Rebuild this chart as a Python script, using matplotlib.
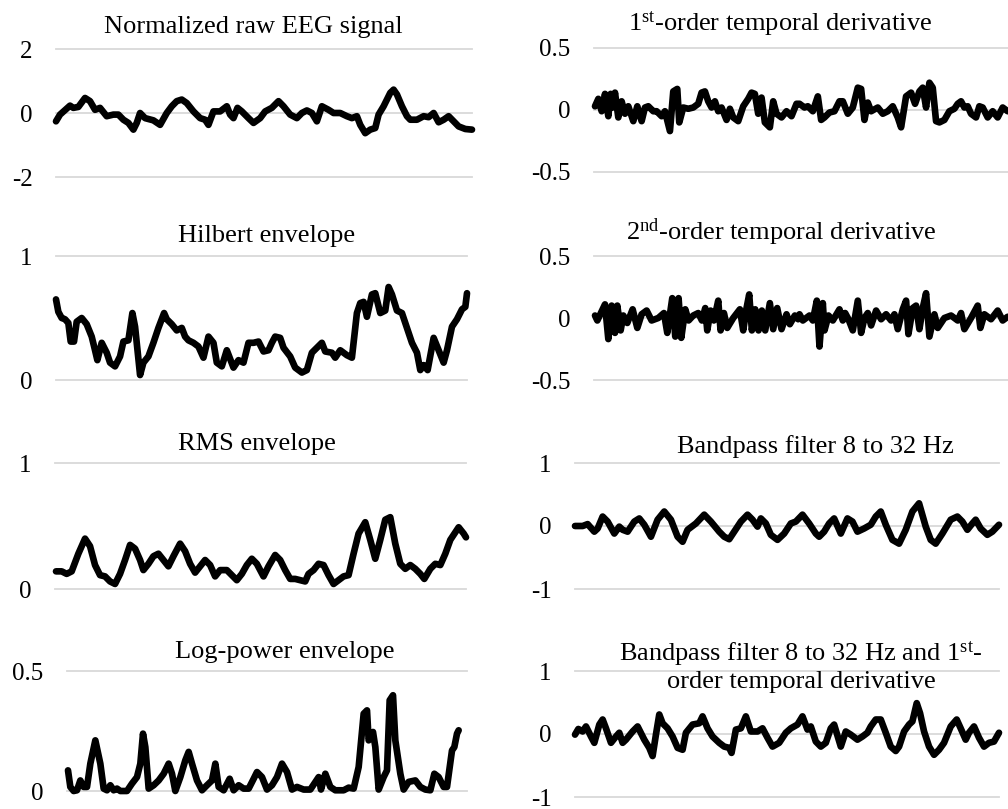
import matplotlib
matplotlib.use("Agg")
import matplotlib.pyplot as plt

plt.rcParams['font.family'] = ['Liberation Serif', 'DejaVu Serif']
plt.rcParams['mathtext.fontset'] = 'custom'
plt.rcParams['mathtext.rm'] = 'Liberation Serif'
plt.rcParams['mathtext.it'] = 'Liberation Serif:italic'
plt.rcParams['axes.unicode_minus'] = False

# ---------------- data (time in samples) ----------------
raw_t = [0, 12, 42, 52, 67, 87, 102, 117, 132, 152,
         172, 187, 202, 217, 232, 242, 252, 267, 292, 312,
         332, 347, 362, 377, 392, 412, 432, 447, 457, 472,
         492, 512, 522, 532, 544, 557, 577, 592, 612, 627,
         647, 667, 682, 702, 722, 737, 752, 767, 782, 797,
         817, 832, 852, 872, 887, 902, 912, 927, 942, 957,
         967, 982, 992, 1002, 1012, 1022, 1037, 1052, 1062, 1082,
         1102, 1117, 1132, 1147, 1162, 1177, 1192, 1207, 1227, 1247]
raw_v = [-0.26, -0.05, 0.23, 0.16, 0.19, 0.47, 0.37, 0.10, 0.16, -0.10,
         -0.05, -0.05, -0.21, -0.31, -0.52, -0.31, 0.00, -0.16, -0.23, -0.37,
         0.00, 0.21, 0.37, 0.42, 0.31, 0.05, -0.16, -0.21, -0.37, 0.05,
         0.05, 0.21, -0.05, -0.16, 0.16, 0.05, -0.16, -0.31, -0.16, 0.05,
         0.16, 0.37, 0.21, -0.05, -0.16, 0.00, 0.08, 0.00, -0.26, 0.21,
         0.10, 0.00, 0.00, -0.10, -0.16, -0.10, -0.37, -0.63, -0.52, -0.47,
         -0.05, 0.21, 0.42, 0.63, 0.73, 0.58, 0.21, -0.10, -0.21, -0.21,
         -0.10, -0.13, 0.00, -0.29, -0.21, -0.10, -0.26, -0.42, -0.50, -0.52]

hil_t = [0, 7, 17, 27, 37, 44, 54, 62, 77, 92,
         107, 117, 124, 137, 152, 162, 177, 192, 202, 217,
         229, 237, 252, 262, 277, 292, 307, 324, 332, 347,
         362, 377, 387, 397, 412, 427, 442, 457, 472, 482,
         497, 512, 532, 547, 562, 577, 592, 607, 622, 637,
         647, 657, 672, 682, 702, 717, 737, 752, 767, 782,
         797, 807, 827, 837, 852, 872, 887, 902, 912, 922,
         932, 947, 957, 972, 987, 997, 1007, 1022, 1037, 1052,
         1067, 1082, 1092, 1102, 1114, 1132, 1147, 1162, 1172, 1187,
         1202, 1217, 1227, 1232]
hil_v = [0.65, 0.55, 0.50, 0.49, 0.46, 0.31, 0.31, 0.47, 0.50, 0.45,
         0.35, 0.24, 0.16, 0.30, 0.22, 0.14, 0.11, 0.19, 0.31, 0.32,
         0.54, 0.43, 0.04, 0.14, 0.19, 0.30, 0.42, 0.54, 0.49, 0.45,
         0.40, 0.42, 0.35, 0.32, 0.30, 0.27, 0.18, 0.35, 0.30, 0.14,
         0.11, 0.24, 0.10, 0.16, 0.14, 0.30, 0.30, 0.31, 0.23, 0.24,
         0.30, 0.35, 0.34, 0.26, 0.19, 0.10, 0.06, 0.08, 0.22, 0.26,
         0.30, 0.23, 0.22, 0.18, 0.24, 0.20, 0.18, 0.54, 0.62, 0.63,
         0.51, 0.69, 0.70, 0.54, 0.56, 0.75, 0.69, 0.56, 0.54, 0.42,
         0.30, 0.22, 0.08, 0.12, 0.08, 0.34, 0.24, 0.14, 0.24, 0.43,
         0.49, 0.57, 0.59, 0.70]

rms_t = [0, 17, 32, 47, 67, 87, 102, 117, 132, 147,
         162, 177, 192, 207, 222, 237, 252, 262, 277, 292,
         307, 322, 337, 352, 372, 387, 402, 417, 432, 447,
         462, 477, 492, 512, 527, 542, 557, 572, 587, 602,
         622, 637, 657, 672, 687, 702, 717, 732, 747, 757,
         772, 787, 802, 817, 832, 847, 862, 877, 892, 907,
         927, 942, 957, 972, 987, 1002, 1017, 1032, 1047, 1062,
         1077, 1092, 1104, 1122, 1137, 1152, 1167, 1182, 1207, 1222,
         1229]
rms_v = [0.14, 0.14, 0.12, 0.14, 0.28, 0.40, 0.34, 0.19, 0.11, 0.10,
         0.06, 0.04, 0.12, 0.23, 0.35, 0.32, 0.23, 0.15, 0.20, 0.26,
         0.28, 0.23, 0.18, 0.26, 0.36, 0.30, 0.20, 0.13, 0.18, 0.23,
         0.19, 0.10, 0.15, 0.15, 0.11, 0.07, 0.12, 0.19, 0.24, 0.20,
         0.10, 0.18, 0.27, 0.23, 0.15, 0.08, 0.08, 0.07, 0.06, 0.12,
         0.15, 0.20, 0.19, 0.11, 0.04, 0.07, 0.10, 0.11, 0.28, 0.44,
         0.53, 0.39, 0.24, 0.39, 0.55, 0.57, 0.36, 0.20, 0.16, 0.19,
         0.16, 0.12, 0.08, 0.16, 0.20, 0.19, 0.28, 0.39, 0.49, 0.44,
         0.41]

logp_t = [0, 7, 17, 27, 37, 47, 57, 67, 82, 97,
          107, 117, 127, 137, 147, 157, 177, 192, 207, 217,
          225, 232, 242, 257, 272, 287, 302, 312, 322, 337,
          352, 362, 372, 387, 402, 417, 432, 442, 452, 467,
          485, 497, 512, 527, 542, 557, 567, 582, 597, 612,
          627, 642, 657, 672, 687, 707, 727, 752, 759, 772,
          787, 802, 827, 842, 857, 872, 887, 897, 902, 915,
          922, 932, 947, 957, 965, 975, 982, 997, 1007, 1022,
          1042, 1057, 1072, 1087, 1099, 1112, 1127, 1137, 1152, 1159,
          1167, 1172]
logp_v = [0.086, 0.017, 0.000, 0.003, 0.044, 0.017, 0.017, 0.114, 0.211, 0.114,
          0.010, 0.003, 0.024, 0.003, 0.010, 0.000, 0.000, 0.031, 0.058, 0.114,
          0.239, 0.183, 0.010, 0.024, 0.044, 0.072, 0.114, 0.072, 0.000, 0.058,
          0.128, 0.163, 0.114, 0.044, 0.003, 0.024, 0.044, 0.114, 0.017, 0.003,
          0.051, 0.003, 0.024, 0.010, 0.010, 0.051, 0.079, 0.058, 0.006, 0.024,
          0.058, 0.114, 0.079, 0.006, 0.017, 0.006, 0.006, 0.058, 0.006, 0.072,
          0.017, 0.003, 0.003, 0.014, 0.010, 0.100, 0.322, 0.336, 0.211, 0.246,
          0.183, 0.006, 0.058, 0.086, 0.378, 0.399, 0.211, 0.072, 0.006, 0.038,
          0.044, 0.017, 0.006, 0.003, 0.072, 0.058, 0.017, 0.017, 0.169, 0.183,
          0.239, 0.253]

d1_t = [3, 13, 23, 33, 43, 50, 56, 63, 73, 83,
        93, 103, 118, 130, 143, 153, 163, 178, 188, 203,
        213, 228, 238, 250, 256, 268, 283, 298, 313, 323,
        333, 343, 353, 363, 373, 383, 398, 408, 418, 433,
        448, 463, 473, 483, 493, 503, 513, 528, 538, 548,
        563, 578, 593, 608,
        617, 632, 642, 657, 672, 682, 692, 707, 722, 737,
        747, 762, 777, 792, 802, 812, 822, 832, 852, 867,
        882, 897, 912, 922, 937, 952, 964, 977, 987, 997,
        1007, 1017, 1027, 1037, 1052, 1067, 1082, 1092, 1102, 1112,
        1122, 1132, 1147, 1157, 1167, 1182, 1197, 1212, 1227, 1242]
d1_v = [0.03, 0.09, -0.01, 0.13, -0.05, 0.13, 0.02, 0.14, -0.06, 0.07,
        -0.03, 0.03, -0.09, 0.03, -0.09, 0.02, 0.03, -0.01, -0.01, -0.05,
        -0.01, -0.17, 0.15, 0.17, -0.10, 0.02, 0.01, 0.02, 0.05, 0.14,
        0.15, 0.07, 0.02, 0.07, -0.01, 0.02, -0.08, 0.01, -0.06, -0.09,
        0.03, 0.09, 0.14, 0.13, -0.03, 0.10, -0.10, -0.14, 0.07, -0.03,
        -0.06, -0.01, -0.05, 0.05,
        0.05, 0.02, 0.03, -0.01, 0.11, -0.08, -0.06, -0.02, -0.01, 0.07,
        0.07, -0.03, 0.02, 0.18, 0.17, -0.08, 0.06, -0.01, 0.02, -0.03,
        -0.01, 0.03, -0.06, -0.14, 0.11, 0.14, 0.05, 0.15, 0.18, 0.02,
        0.22, 0.18, -0.09, -0.10, -0.08, -0.01, 0.01, 0.05, 0.07, 0.02,
        0.03, -0.03, -0.06, 0.03, 0.02, -0.06, -0.01, -0.06, 0.02, -0.01]

d2_t = [3, 10, 33, 43, 53, 63, 70, 80, 88, 100,
        116, 130, 143, 158, 173, 193, 210, 220, 235, 244,
        254, 262, 274, 284, 298, 313, 324, 334, 340, 350,
        360, 373, 380, 390, 400, 418, 438, 448, 458, 466,
        474, 484, 494, 504, 514, 528, 538, 550, 563, 578,
        588, 603, 613,
        617, 627, 647, 657, 669, 677, 687, 692, 704, 717,
        737, 747, 754, 764, 777, 792, 802, 812, 822, 832,
        847, 862, 877, 892, 902, 912, 927, 937, 944, 957,
        967, 977, 987, 997, 1007, 1022, 1032, 1052, 1072, 1092,
        1102, 1112, 1132, 1152, 1160, 1172, 1192, 1212, 1227, 1242]
d2_v = [0.02, -0.02, 0.11, -0.17, 0.10, -0.12, 0.10, -0.10, 0.02, -0.04,
        0.07, -0.08, 0.03, 0.06, -0.02, 0.00, 0.04, -0.12, 0.16, -0.15,
        0.16, -0.16, 0.07, -0.02, 0.02, 0.04, -0.02, 0.08, -0.10, 0.06,
        -0.02, 0.14, -0.10, 0.04, -0.08, 0.00, 0.07, -0.10, 0.08, 0.19,
        -0.10, 0.07, -0.10, 0.06, -0.10, 0.12, -0.09, 0.08, -0.09, 0.03,
        -0.05, 0.02, -0.01,
        0.03, -0.02, 0.02, -0.02, 0.14, -0.23, 0.12, -0.10, 0.02, -0.02,
        0.07, -0.02, 0.04, -0.01, -0.10, 0.14, -0.12, 0.00, 0.04, -0.06,
        0.06, -0.01, 0.03, -0.02, 0.03, -0.09, 0.07, 0.14, -0.13, 0.08,
        0.10, -0.09, 0.08, 0.20, -0.15, 0.03, -0.08, 0.00, 0.02, -0.02,
        0.04, -0.09, 0.00, 0.10, -0.08, 0.03, -0.01, 0.06, -0.02, 0.01]

bp_t = [0, 23, 38, 58, 68, 83, 98, 118, 133, 143,
        158, 178, 193, 208, 228, 248, 268, 288, 308, 323,
        338, 363, 388, 408, 433, 448, 463, 478, 498, 518,
        533, 548, 558, 573, 588, 608, 628, 648, 663, 683,
        703, 723, 733, 748, 763, 778, 798, 818, 833, 848,
        868, 888, 903, 918, 933, 953, 973, 993, 1013, 1033,
        1053, 1068, 1083, 1103, 1128, 1148, 1163, 1178, 1193, 1203,
        1218, 1238, 1253, 1273]
bp_v = [0.00, 0.00, 0.03, -0.09, -0.04, 0.15, 0.07, -0.12, -0.01, -0.06,
        -0.09, 0.07, 0.12, 0.02, -0.17, 0.10, 0.23, 0.10, -0.17, -0.25,
        -0.06, 0.04, 0.18, 0.07, -0.09, -0.17, -0.21, -0.09, 0.07, 0.18,
        0.10, -0.01, 0.12, 0.04, -0.14, -0.22, -0.12, 0.04, 0.07, 0.18,
        0.04, -0.12, -0.17, -0.09, 0.04, 0.12, -0.12, 0.12, 0.07, -0.09,
        -0.04, 0.02, 0.15, 0.23, 0.02, -0.22, -0.28, -0.06, 0.23, 0.36,
        -0.01, -0.22, -0.28, -0.12, 0.10, 0.15, 0.07, -0.06, 0.04, 0.10,
        -0.04, -0.14, -0.09, 0.02]

bpd_t = [0, 10, 23, 33, 48, 58, 73, 83, 93, 108,
         123, 133, 143, 153, 173, 188, 208, 223, 233, 243,
         253, 263, 278, 293, 308, 323, 333, 353, 373, 383,
         398, 413, 433, 448, 463, 470, 483, 498, 513, 528,
         548, 563, 578, 593, 613, 633, 648, 668, 683, 698,
         708, 723, 738, 753, 768, 778, 798, 813, 828, 848,
         863, 878, 888, 903, 918, 933, 948, 963, 973, 988,
         1003, 1013, 1026, 1036, 1048, 1063, 1078, 1093, 1108, 1128,
         1146, 1158, 1173, 1183, 1198, 1213, 1228, 1243, 1258, 1273]
bpd_v = [-0.01, 0.08, 0.04, 0.12, -0.04, -0.14, 0.15, 0.23, 0.09, -0.14,
         -0.04, 0.02, -0.14, -0.09, 0.04, 0.12, -0.09, -0.22, -0.35, -0.01,
         0.31, 0.17, 0.09, -0.04, -0.22, -0.25, 0.02, 0.15, 0.17, 0.28,
         0.09, -0.04, -0.14, -0.20, -0.22, -0.30, 0.07, 0.09, 0.28, 0.04,
         0.04, 0.09, -0.06, -0.20, -0.14, 0.02, 0.09, 0.15, 0.28, 0.07,
         0.12, -0.12, -0.20, -0.14, 0.09, 0.15, -0.20, 0.04, -0.01, -0.09,
         -0.04, 0.02, 0.12, 0.23, 0.23, 0.02, -0.20, -0.27, -0.20, 0.04,
         0.15, 0.20, 0.49, 0.33, 0.04, -0.20, -0.33, -0.25, -0.14, 0.12,
         0.23, 0.09, -0.09, 0.02, 0.12, -0.06, -0.20, -0.14, -0.12, 0.02]

titles = [
    ["Normalized raw EEG signal"],
    ["Hilbert envelope"],
    ["RMS envelope"],
    ["Log-power envelope"],
    [r"1$^{\mathrm{st}}$-order temporal derivative"],
    [r"2$^{\mathrm{nd}}$-order temporal derivative"],
    ["Bandpass filter 8 to 32 Hz"],
    [r"Bandpass filter 8 to 32 Hz and 1$^{\mathrm{st}}$-", "order temporal derivative"],
]
yticks = [[-2, 0, 2], [0, 1], [0, 1], [0, 0.5],
          [-0.5, 0, 0.5], [-0.5, 0, 0.5], [-1, 0, 1], [-1, 0, 1]]
yticklabels = [["-2", "0", "2"], ["0", "1"], ["0", "1"], ["0", "0.5"],
               ["-0.5", "0", "0.5"], ["-0.5", "0", "0.5"], ["-1", "0", "1"], ["-1", "0", "1"]]

series = [(raw_t, raw_v), (hil_t, hil_v), (rms_t, rms_v), (logp_t, logp_v),
          (d1_t, d1_v), (d2_t, d2_v), (bp_t, bp_v), (bpd_t, bpd_v)]

# ---------------- layout (pixels) ----------------
W, H = 1008, 809
# (x_left, x_right, y_top, y_bottom)
rects = [(56, 472, 49, 177), (56, 467, 256, 380), (55, 466, 463, 589), (67, 467, 671, 791),
         (594, 1018, 48, 172), (594, 1018, 256, 380), (575, 999, 463, 589), (575, 999, 671, 797)]
xlims = [(0, 1247), (0, 1232), (-3, 1229), (-3, 1197),
         (0, 1273), (0, 1273), (0, 1273), (0, 1273)]
# title centre x, baselines y
title_pos = [(253, [33]), (267, [242]), (257, [450]), (285, [658]),
             (780, [30]), (781, [240]), (815, [453]), (801, [660, 688])]

TICK_FS = 18
TITLE_FS = 19
GRID_C = "#d9d9d9"
LW = 4.8

fig = plt.figure(figsize=(W / 100, H / 100), dpi=100)

for i, ((t, v), (x0, x1, yt, yb)) in enumerate(zip(series, rects)):
    assert len(t) == len(v), (i, len(t), len(v))
    ax = fig.add_axes([x0 / W, (H - yb) / H, (x1 - x0) / W, (yb - yt) / H])
    ax.set_xlim(*xlims[i])
    ax.set_ylim(min(yticks[i]), max(yticks[i]))
    for s in ax.spines.values():
        s.set_visible(False)
    ax.set_facecolor("none")
    ax.set_xticks([])
    ax.set_yticks(yticks[i], yticklabels[i])
    ax.tick_params(axis="y", length=0, pad=17, labelsize=TICK_FS)
    for yv in yticks[i]:
        ax.axhline(yv, color=GRID_C, lw=1.3, zorder=0, clip_on=False)
    ax.plot(t, v, color="black", lw=LW, solid_joinstyle="round",
            solid_capstyle="round", clip_on=False, zorder=3)
    cx, bases = title_pos[i]
    for line, by in zip(titles[i], bases):
        fig.text(cx / W, (H - by) / H, line, ha="center", va="baseline",
                 fontsize=TITLE_FS)

fig.savefig("out.png", dpi=100, facecolor="white")
